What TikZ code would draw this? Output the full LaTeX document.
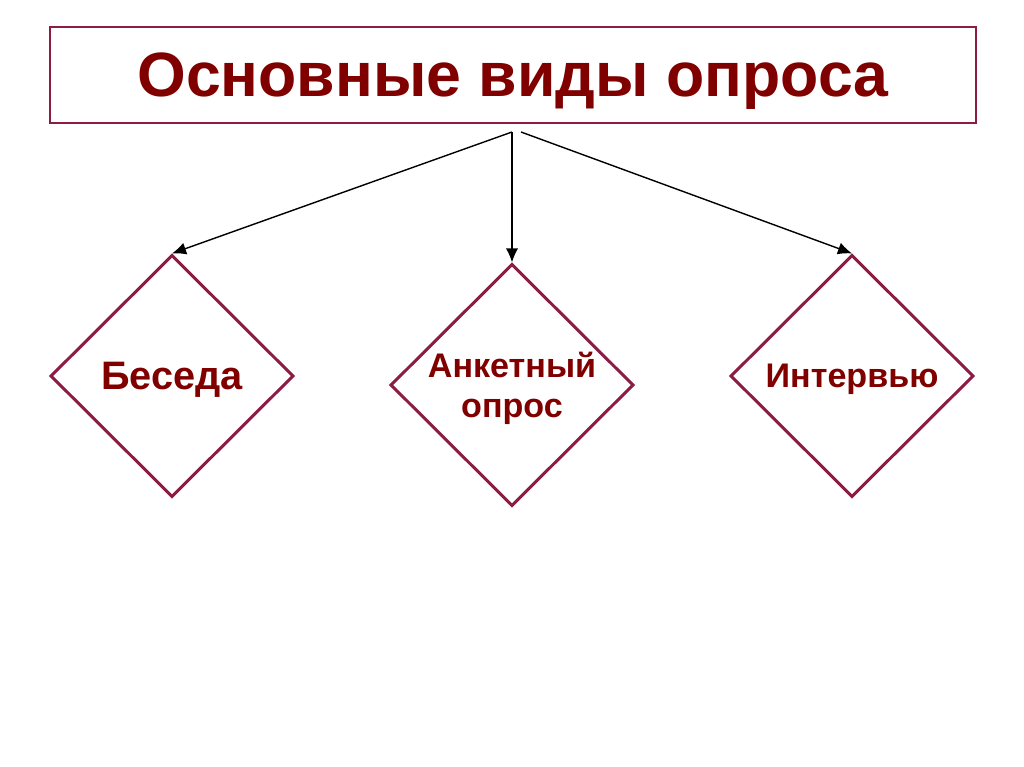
\documentclass[tikz,border=0pt]{standalone}
\usepackage{fontspec}
\setmainfont{Liberation Sans}
\usetikzlibrary{positioning,arrows.meta,shapes.geometric}

\definecolor{framered}{RGB}{140,28,68}
\definecolor{textred}{RGB}{128,0,0}

\tikzset{
  kind/.style={diamond, draw=framered, line width=0.85pt, aspect=1,
    minimum width=2.43cm, minimum height=2.42cm, inner sep=0pt, text depth=0pt,
    text=textred, font=\bfseries\fontsize{9.7}{11.4}\selectfont, align=center},
  branch/.style={-{Latex[length=4pt,width=3.5pt]}, line width=0.4pt, black}
}

\begin{document}
\begin{tikzpicture}[x=0.01cm,y=-0.01cm]
\useasboundingbox (0,0) rectangle (1024,767);
\fill[white] (0,0) rectangle (1024,767);
% title box
\node[draw=framered, line width=0.6pt, minimum width=9.26cm, minimum height=0.96cm,
  text depth=0pt, text=textred, font=\bfseries\fontsize{17.8}{20}\selectfont] (title) at (513,75)
  {Основные виды опроса};
% kinds of survey
\node[kind, font=\bfseries\fontsize{11.3}{13}\selectfont] (talk) at (172,376) {Беседа};
\node[kind] (form) at (512,385) {Анкетный\\опрос};
\node[kind] (interview) at (852,376) {Интервью};
% connectors
\coordinate (fork) at (512,132);
\coordinate (forkR) at (521,132);
\draw[branch] (fork) -- (talk.north);
\draw[branch] (fork) -- (form.north);
\draw[branch] (forkR) -- (interview.north);
\end{tikzpicture}
\end{document}
